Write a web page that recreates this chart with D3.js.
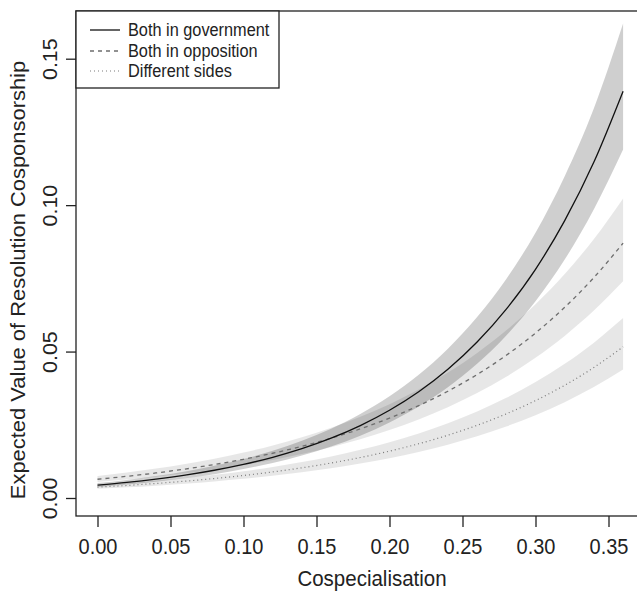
<!DOCTYPE html>
<html>
<head>
<meta charset="utf-8">
<script src="https://cdn.jsdelivr.net/npm/d3@7"></script>
<style>
  html, body { margin: 0; padding: 0; background: #ffffff; }
  svg { display: block; font-family: "Liberation Sans", Arial, Helvetica, sans-serif; }
</style>
</head>
<body>
<svg id="chart" width="637" height="592"></svg>
<script>
// ---- data ----
const xValues = [0, 0.02, 0.04, 0.06, 0.08, 0.10, 0.12, 0.14, 0.16, 0.18, 0.20, 0.22, 0.24, 0.26, 0.28, 0.30, 0.32, 0.34, 0.36];

const govMean  = [0.00440, 0.00533, 0.00646, 0.00782, 0.00948, 0.01148, 0.01391, 0.01685, 0.02041, 0.02473, 0.02996, 0.03629, 0.04396, 0.05325, 0.0645, 0.0781, 0.0947, 0.1147, 0.1389];
const govLower = [0.00378, 0.00458, 0.00556, 0.00673, 0.00815, 0.00987, 0.01196, 0.01449, 0.01755, 0.02127, 0.02577, 0.03121, 0.0378, 0.0458, 0.0555, 0.0672, 0.0814, 0.0986, 0.1190];
const govUpper = [0.00510, 0.00618, 0.00749, 0.00907, 0.0110, 0.0133, 0.01614, 0.01955, 0.02368, 0.02869, 0.03475, 0.0421, 0.0510, 0.0618, 0.0748, 0.0906, 0.1099, 0.1331, 0.1620];

const oppMean  = [0.00640, 0.00740, 0.00855, 0.00989, 0.01143, 0.01321, 0.01528, 0.01766, 0.02042, 0.02360, 0.02728, 0.03154, 0.03646, 0.04215, 0.04873, 0.05633, 0.06512, 0.07528, 0.08703];
const oppLower = [0.00544, 0.00629, 0.00727, 0.00841, 0.00972, 0.01123, 0.01299, 0.01501, 0.01736, 0.02006, 0.02319, 0.02681, 0.03099, 0.03583, 0.04142, 0.04788, 0.05535, 0.06399, 0.07398];
const oppUpper = [0.00752, 0.00870, 0.01005, 0.01162, 0.01343, 0.01552, 0.01795, 0.02075, 0.02399, 0.02773, 0.03205, 0.03706, 0.04284, 0.04953, 0.05726, 0.06619, 0.07652, 0.08845, 0.1023];

const difMean  = [0.00370, 0.00428, 0.00496, 0.00574, 0.00665, 0.00769, 0.00891, 0.01031, 0.01194, 0.01382, 0.01600, 0.01852, 0.02144, 0.02482, 0.02873, 0.03326, 0.03851, 0.04458, 0.05161];
const difLower = [0.00315, 0.00364, 0.00422, 0.00488, 0.00565, 0.00654, 0.00757, 0.00876, 0.01015, 0.01175, 0.0136, 0.01574, 0.01822, 0.0211, 0.02442, 0.02827, 0.03273, 0.03789, 0.04387];
const difUpper = [0.0044, 0.00509, 0.0059, 0.00683, 0.00791, 0.00915, 0.0106, 0.01227, 0.01421, 0.01645, 0.01904, 0.02204, 0.02551, 0.02954, 0.03419, 0.03958, 0.04583, 0.05305, 0.06142];

const xTicks = [0, 0.05, 0.10, 0.15, 0.20, 0.25, 0.30, 0.35];
const yTicks = [0, 0.05, 0.10, 0.15];
const legendLabels = ["Both in government", "Both in opposition", "Different sides"];
const xTitle = "Cospecialisation";
const yTitle = "Expected Value of Resolution Cosponsorship";

// ---- layout ----
const svg = d3.select("#chart");
const box = { left: 76, top: 11, right: 668, bottom: 516 };
const vStretch = 1.07; // reference glyphs are slightly taller than wide

const x = d3.scaleLinear().domain([0, 0.35]).range([97.5, 608.5]);
const y = d3.scaleLinear().domain([0, 0.15]).range([498, 58.7]);

const clipId = "plotclip";
svg.append("defs").append("clipPath").attr("id", clipId)
  .append("rect").attr("x", box.left).attr("y", box.top)
  .attr("width", box.right - box.left).attr("height", box.bottom - box.top);

const plot = svg.append("g").attr("clip-path", `url(#${clipId})`);

function bandData(lo, hi) { return xValues.map((v, i) => ({ x: v, lo: lo[i], hi: hi[i] })); }
function lineData(m) { return xValues.map((v, i) => ({ x: v, y: m[i] })); }

const area = d3.area().x(d => x(d.x)).y0(d => y(d.lo)).y1(d => y(d.hi)).curve(d3.curveMonotoneX);
const line = d3.line().x(d => x(d.x)).y(d => y(d.y)).curve(d3.curveMonotoneX);

// bands
plot.append("path").datum(bandData(oppLower, oppUpper)).attr("d", area)
  .attr("fill", "#000").attr("fill-opacity", 0.095);
plot.append("path").datum(bandData(difLower, difUpper)).attr("d", area)
  .attr("fill", "#000").attr("fill-opacity", 0.095);
plot.append("path").datum(bandData(govLower, govUpper)).attr("d", area)
  .attr("fill", "#000").attr("fill-opacity", 0.19);

// lines
plot.append("path").datum(lineData(difMean)).attr("d", line)
  .attr("fill", "none").attr("stroke", "#7a7a7a").attr("stroke-width", 1.2).attr("stroke-dasharray", "1,3");
plot.append("path").datum(lineData(oppMean)).attr("d", line)
  .attr("fill", "none").attr("stroke", "#6e6e6e").attr("stroke-width", 1.3).attr("stroke-dasharray", "4,4");
plot.append("path").datum(lineData(govMean)).attr("d", line)
  .attr("fill", "none").attr("stroke", "#111").attr("stroke-width", 1.3);

// box
svg.append("rect").attr("x", box.left).attr("y", box.top)
  .attr("width", box.right - box.left).attr("height", box.bottom - box.top)
  .attr("fill", "none").attr("stroke", "#222").attr("stroke-width", 1.3);

// x axis
const xAxis = d3.axisBottom(x).tickValues(xTicks).tickFormat(d3.format(".2f")).tickSize(11).tickPadding(0);
const gx = svg.append("g").attr("transform", `translate(0,${box.bottom})`).call(xAxis);
gx.select(".domain").remove();
gx.selectAll(".tick line").attr("stroke", "#222").attr("stroke-width", 1.3);
gx.selectAll(".tick text").attr("font-size", 20).attr("fill", "#222")
  .attr("y", 0).attr("dy", 0)
  .attr("transform", `translate(0,38) scale(1,${vStretch})`);

// y axis
const yAxis = d3.axisLeft(y).tickValues(yTicks).tickFormat(d3.format(".2f")).tickSize(10).tickPadding(0);
const gy = svg.append("g").attr("transform", `translate(${box.left},0)`).call(yAxis);
gy.select(".domain").remove();
gy.selectAll(".tick line").attr("stroke", "#222").attr("stroke-width", 1.3);
gy.selectAll(".tick text").attr("font-size", 20).attr("fill", "#222")
  .attr("x", null).attr("dy", null)
  .attr("text-anchor", "middle")
  .attr("transform", `translate(-19,0) rotate(-90) scale(${vStretch},1)`);

// axis titles
svg.append("text").attr("transform", `translate(372,586) scale(1,${vStretch})`)
  .attr("text-anchor", "middle").attr("font-size", 20.5).attr("fill", "#222").text(xTitle);
svg.append("text").attr("transform", `translate(25,280) rotate(-90) scale(${vStretch},1)`)
  .attr("text-anchor", "middle").attr("font-size", 20.5).attr("fill", "#222").text(yTitle);

// legend
const lg = svg.append("g");
lg.append("rect").attr("x", box.left).attr("y", box.top).attr("width", 203).attr("height", 77)
  .attr("fill", "#fff").attr("stroke", "#222").attr("stroke-width", 1.3);
const legendStyles = [
  { stroke: "#111", dash: null, w: 1.3 },
  { stroke: "#6e6e6e", dash: "4,4", w: 1.3 },
  { stroke: "#7a7a7a", dash: "1,3", w: 1.2 }
];
const rowY = [30, 51, 71];
legendLabels.forEach((lab, i) => {
  lg.append("line").attr("x1", 90).attr("x2", 120).attr("y1", rowY[i]).attr("y2", rowY[i])
    .attr("stroke", legendStyles[i].stroke).attr("stroke-width", legendStyles[i].w)
    .attr("stroke-dasharray", legendStyles[i].dash);
  lg.append("text").attr("transform", `translate(128,${rowY[i] + 6}) scale(1,${vStretch})`)
    .attr("font-size", 16.3).attr("fill", "#222").text(lab);
});
</script>
</body>
</html>
